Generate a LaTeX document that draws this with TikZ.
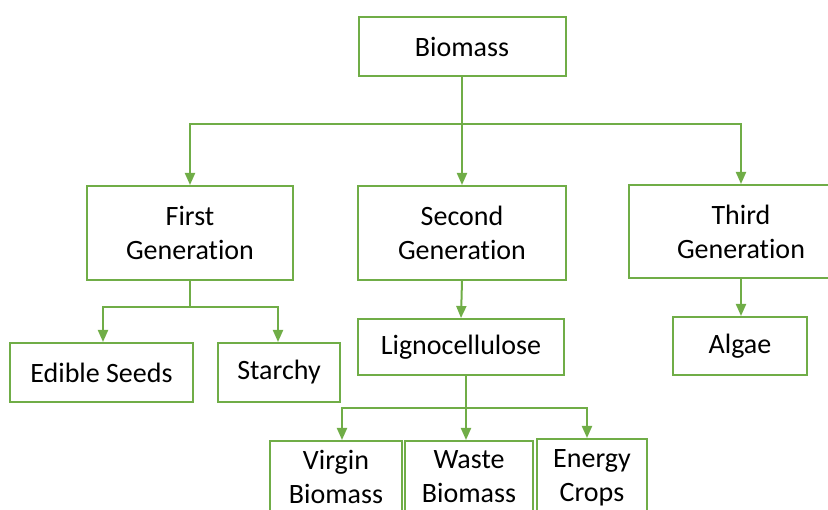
\documentclass[tikz,border=0pt]{standalone}
\usepackage{fontspec}
\setmainfont{Carlito}[Ligatures=NoCommon]
\usepackage{xcolor}
\usetikzlibrary{arrows.meta, positioning, calc}
\definecolor{leaf}{RGB}{112,173,71}
\tikzset{
    treediagram/.style={x=1pt, y=-1pt, >={Triangle[width=10pt, length=12pt]}, line width=2pt, font=\fontsize{28}{34}\selectfont},
    block/.style={draw=leaf, line width=2pt, fill=white, align=center, inner sep=0pt},
    link/.style={draw=leaf, line width=2pt},
    branch/.style={coordinate},
}

\begin{document}
\begin{tikzpicture}[treediagram]
    \clip (0,0) rectangle (828,510);
    % top level
    \node[block, minimum width=207pt, minimum height=59pt] (biomass) at (462,46.5) {Biomass};
    \node[block, minimum width=206pt, minimum height=94pt] (first)  at (190,233) {First\\Generation};
    \node[block, minimum width=208pt, minimum height=94pt] (second) at (462,233) {Second\\Generation};
    \node[block, minimum width=224pt, minimum height=93pt] (third)  at (741,231.5) {Third\\Generation};

    % second level
    \node[block, minimum width=183pt, minimum height=59pt] (edible)  at (101.5,372.5) {Edible Seeds};
    \node[block, minimum width=122pt, minimum height=59pt] (starchy) at (279,372.5) {Starchy};
    \node[block, minimum width=206pt, minimum height=56pt] (ligno)   at (461,347) {Lignocellulose};
    \node[block, minimum width=134pt, minimum height=58pt] (algae)   at (740,346) {Algae};

    % third level
    \node[block, minimum width=132pt, minimum height=72pt] (virgin) at (336,477) {Virgin\\Biomass};
    \node[block, minimum width=128pt, minimum height=72pt] (waste)  at (469,477) {Waste\\Biomass};
    \node[block, minimum width=110pt, minimum height=77pt] (energy) at (592,477.5) {Energy\\Crops};

    % junctions
    \node[branch] (j1) at (462,124) {};
    \node[branch] (j2) at (190,307) {};
    \node[branch] (j3) at (466,408) {};

    \draw[link] (biomass.south) -- (j1);
    \draw[link, ->] (j1) -| (first.north);
    \draw[link, ->] (j1) -- (second.north);
    \draw[link, ->] (j1) -| (third.north);

    \draw[link] (first.south) -- (j2);
    \draw[link, ->] (j2) -| ([xshift=1.5pt]edible.north);
    \draw[link, ->] (j2) -| ([xshift=-1pt]starchy.north);

    \draw[link, ->] (second.south) -- (ligno.north);
    \draw[link, ->] (third.south) -- ([xshift=1pt]algae.north);

    \draw[link] (ligno.south -| j3) -- (j3);
    \draw[link, ->] (j3) -| ([xshift=6pt]virgin.north);
    \draw[link, ->] (j3) -- (j3 |- waste.north);
    \draw[link, ->] (j3) -| ([xshift=-5pt]energy.north);
\end{tikzpicture}
\end{document}
